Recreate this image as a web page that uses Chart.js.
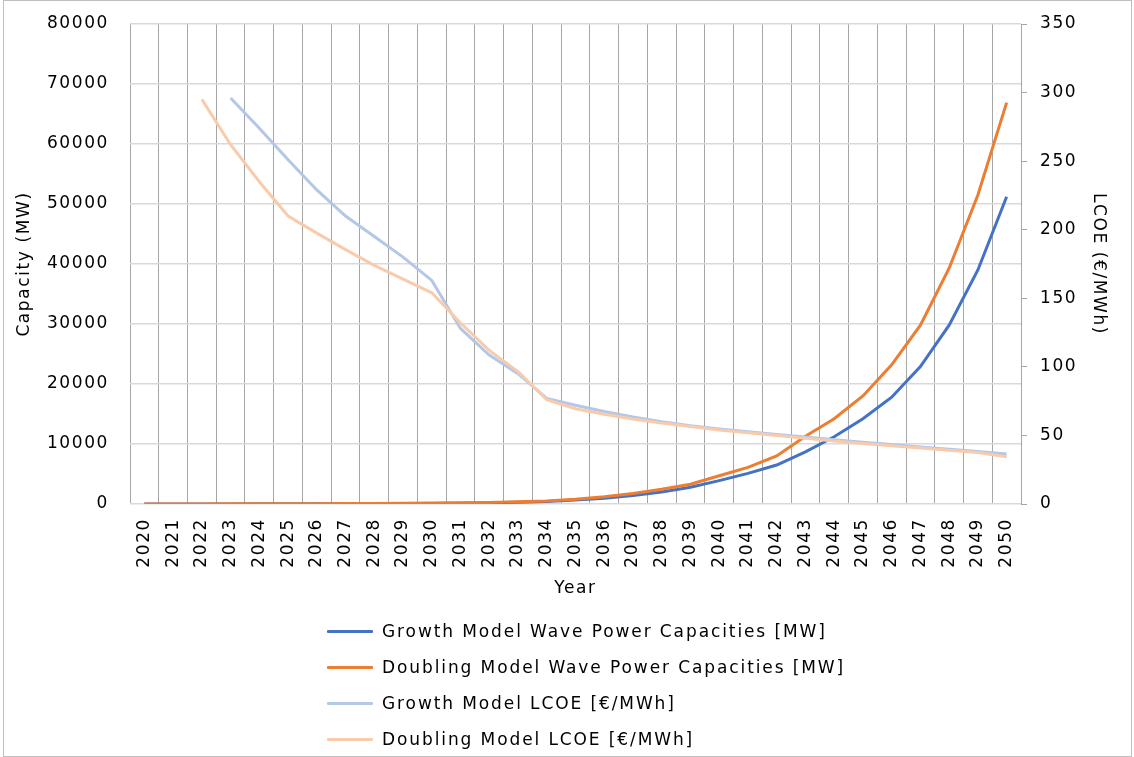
<!DOCTYPE html>
<html>
<head>
<meta charset="utf-8">
<title>Wave power capacities and LCOE</title>
<script src="https://cdn.jsdelivr.net/npm/chart.js@4.4.1/dist/chart.umd.min.js"></script>
<style>
  html, body { margin: 0; padding: 0; background: #fff; }
  #wrap { position: relative; width: 1134px; height: 757px; }
  #frame { position: absolute; left: 3px; top: 0; width: 1129px; height: 757px; border: 1px solid #bfbfbf; box-sizing: border-box; pointer-events: none; }
  #legend { position: absolute; left: 327px; top: 613px; font-family: "DejaVu Sans", sans-serif; font-size: 17px; letter-spacing: 1.9px; color: #000; }
  .item { height: 36px; display: flex; align-items: center; white-space: nowrap; }
  .swatch { width: 46px; height: 3px; margin-right: 9px; border-radius: 1px; }
</style>
</head>
<body>
<div id="wrap">
  <canvas id="chart" width="1134" height="757"></canvas>
  <div id="legend"></div>
  <div id="frame"></div>
</div>
<script>
// values
const years = ["2020", "2021", "2022", "2023", "2024", "2025", "2026", "2027", "2028", "2029",
               "2030", "2031", "2032", "2033", "2034", "2035", "2036", "2037", "2038", "2039",
               "2040", "2041", "2042", "2043", "2044", "2045", "2046", "2047", "2048", "2049", "2050"];

const growthCapacity = [5, 8, 12, 18, 25, 35, 45, 60, 75, 90,
                        110, 150, 210, 290, 400, 650, 950, 1400, 2000, 2800,
                        3900, 5100, 6500, 8700, 11200, 14200, 17800, 22900, 29800, 39000, 51200];

const doublingCapacity = [10, 15, 20, 30, 40, 50, 60, 75, 90, 110,
                          130, 180, 260, 360, 520, 800, 1200, 1750, 2450, 3300,
                          4700, 6100, 8000, 11300, 14200, 18000, 23200, 29800, 39300, 51500, 66900];

const growthLcoe = [null, null, null, 296, 274, 251, 229, 210, 195, 180,
                    163, 128, 108.6, 95, 77, 72, 67.5, 63.5, 60, 57,
                    54.7, 52.7, 50.7, 48.8, 46.8, 45, 43.3, 41.6, 40, 38.2, 36.5];

const doublingLcoe = [null, null, 295, 262, 235, 210, 197.5, 185.5, 174, 164,
                      154, 132, 112, 96.5, 76, 69.5, 65.5, 62, 59, 56.5,
                      54, 52, 50, 48, 46, 44.2, 42.5, 40.8, 39.2, 37.6, 34.5];

const seriesNames = [
  "Growth Model Wave Power Capacities [MW]",
  "Doubling Model Wave Power Capacities [MW]",
  "Growth Model LCOE [€/MWh]",
  "Doubling Model LCOE [€/MWh]"
];
const seriesColors = ["#4472C4", "#ED7D31", "#B4C7E7", "#F8CBAD"];

Chart.defaults.font.family = '"DejaVu Sans", sans-serif';
Chart.defaults.font.size = 17;
Chart.defaults.color = "#000";

// wider glyphs, closer to the original typeface
const spacing = {
  id: "spacing",
  beforeUpdate(chart) { chart.ctx.letterSpacing = "1.6px"; },
  beforeDraw(chart) { chart.ctx.letterSpacing = "1.6px"; }
};

function line(i, data, axis, order) {
  return {
    label: seriesNames[i],
    data: data,
    yAxisID: axis,
    borderColor: seriesColors[i],
    backgroundColor: seriesColors[i],
    borderWidth: 3,
    pointRadius: 0,
    tension: 0,
    order: order
  };
}

const chart = new Chart(document.getElementById("chart").getContext("2d"), {
  type: "line",
  data: {
    labels: years,
    datasets: [
      line(0, growthCapacity, "y", 4),
      line(1, doublingCapacity, "y", 3),
      line(2, growthLcoe, "y1", 2),
      line(3, doublingLcoe, "y1", 1)
    ]
  },
  options: {
    responsive: false,
    animation: false,
    events: [],
    layout: { padding: { top: 24, bottom: 153, left: 0, right: 0 } },
    plugins: {
      legend: { display: false },
      tooltip: { enabled: false }
    },
    scales: {
      x: {
        offset: true,
        grid: { offset: true, color: "#a6a6a6", lineWidth: 1, drawTicks: false },
        border: { display: false },
        ticks: { minRotation: 90, maxRotation: 90, autoSkip: false, padding: 14 },
        title: { display: true, text: "Year", padding: { top: 0, bottom: 5 } },
        afterFit(s) { s.height = 100; }
      },
      y: {
        position: "left",
        min: 0,
        max: 80000,
        // invisible tick marks keep the labels away from the plot
        grid: { color: "#d9d9d9", lineWidth: 1.5, drawTicks: true, tickLength: 18, tickColor: "rgba(0,0,0,0)" },
        border: { display: false },
        ticks: { stepSize: 10000, padding: 3, callback: v => String(v) },
        title: { display: true, text: "Capacity (MW)", padding: { top: 14, bottom: 0 } },
        afterFit(s) { s.width = 130; }
      },
      y1: {
        position: "right",
        min: 0,
        max: 350,
        grid: { drawOnChartArea: false, color: "#a6a6a6", tickLength: 6 },
        border: { display: true, color: "#a6a6a6" },
        ticks: { stepSize: 50, padding: 13, callback: v => String(v) },
        title: { display: true, text: "LCOE (€/MWh)", padding: { top: 25, bottom: 0 } },
        afterFit(s) { s.width = 113; }
      }
    }
  },
  plugins: [spacing]
});

// legend as a single column, like the original
const legend = document.getElementById("legend");
chart.data.datasets.forEach(ds => {
  const row = document.createElement("div");
  row.className = "item";
  const sw = document.createElement("span");
  sw.className = "swatch";
  sw.style.background = ds.borderColor;
  const txt = document.createElement("span");
  txt.textContent = ds.label;
  row.appendChild(sw);
  row.appendChild(txt);
  legend.appendChild(row);
});
</script>
</body>
</html>
